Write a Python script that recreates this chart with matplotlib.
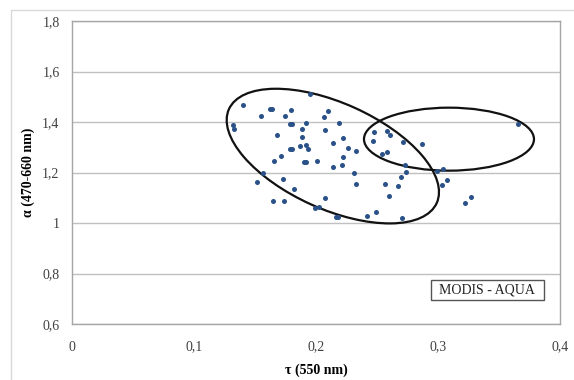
import matplotlib
matplotlib.use("Agg")
import matplotlib.pyplot as plt
from matplotlib.patches import Ellipse, Rectangle
from matplotlib.transforms import ScaledTranslation
from matplotlib.ticker import FuncFormatter

plt.rcParams['font.family'] = ['Liberation Serif', 'DejaVu Serif']

# tau (550 nm) values
tau = [0.1404, 0.1637, 0.1627, 0.1547, 0.1793, 0.1748, 0.1951, 0.2101, 0.2066, 0.2191,
       0.1317, 0.1330, 0.1801, 0.1789, 0.1918, 0.1883, 0.2074, 0.1683, 0.1883, 0.2219,
       0.2137, 0.1918, 0.1869, 0.1801, 0.1787, 0.1937, 0.2265, 0.2328, 0.1711, 0.1656,
       0.2219, 0.1902, 0.1922, 0.2011, 0.2137, 0.2211, 0.1563, 0.2311, 0.1519, 0.1727,
       0.2328, 0.1820, 0.2074, 0.1645, 0.1738, 0.1992, 0.2025, 0.2183, 0.2168, 0.2416,
       0.2475, 0.2584, 0.2607, 0.2465, 0.2711, 0.2865, 0.2580, 0.2539, 0.2730, 0.2738,
       0.2694, 0.2563, 0.2675, 0.2601, 0.2492, 0.2702, 0.3658, 0.3039, 0.2994, 0.3076,
       0.3030, 0.3273, 0.3221]
# alpha (470-660 nm) values
alpha = [1.469, 1.453, 1.453, 1.425, 1.449, 1.425, 1.512, 1.442, 1.418, 1.398,
         1.389, 1.373, 1.392, 1.392, 1.398, 1.372, 1.367, 1.349, 1.339, 1.335,
         1.317, 1.310, 1.303, 1.294, 1.294, 1.294, 1.298, 1.284, 1.267, 1.244,
         1.263, 1.240, 1.240, 1.247, 1.222, 1.228, 1.198, 1.200, 1.164, 1.174,
         1.156, 1.135, 1.099, 1.086, 1.086, 1.059, 1.062, 1.022, 1.022, 1.029,
         1.362, 1.366, 1.349, 1.325, 1.320, 1.314, 1.282, 1.273, 1.229, 1.202,
         1.181, 1.153, 1.145, 1.108, 1.042, 1.019, 1.393, 1.214, 1.204, 1.169,
         1.152, 1.103, 1.079]

x_ticks = [0, 0.1, 0.2, 0.3, 0.4]
y_ticks = [0.6, 0.8, 1.0, 1.2, 1.4, 1.6, 1.8]

fig = plt.figure(figsize=(5.74, 3.80), dpi=100)
ax = fig.add_axes([72/574, 1-324/380, 488/574, 303/380])

# light outer chart border (only top/left visible in the crop)
fig.patches.append(Rectangle((11/574, -0.1), 1.2, 1 - 10/380 + 0.1,
                             transform=fig.transFigure, fill=False,
                             edgecolor='#d9d9d9', lw=1))

ax.scatter(tau, alpha, s=13, color='#2a5288', zorder=3, linewidths=0)

ax.set_xlim(0, 0.4)
ax.set_ylim(0.6, 1.8)
ax.set_xticks(x_ticks)
ax.set_yticks(y_ticks)
fmt = FuncFormatter(lambda v, p: ('%g' % v).replace('.', ','))
ax.xaxis.set_major_formatter(fmt)
ax.yaxis.set_major_formatter(fmt)
ax.tick_params(axis='both', length=0, labelsize=10, colors='#404040')
ax.tick_params(axis='x', pad=12)
ax.tick_params(axis='y', pad=9)
ax.grid(axis='y', color='#c0c0c0', lw=1)
ax.set_axisbelow(True)
for s in ax.spines.values():
    s.set_color('#a6a6a6')
    s.set_linewidth(1)

ax.set_xlabel('τ (550 nm)', fontsize=10, fontweight='bold')
ax.set_ylabel('α (470-660 nm)', fontsize=10, fontweight='bold')
ax.xaxis.set_label_coords(0.5, -0.13)
ax.yaxis.set_label_coords(-0.076, 0.5)

# the two hand-drawn ellipses (sizes in inches at dpi 100)
e1 = Ellipse((0, 0), 2.28, 1.06, angle=-24.3, fill=False, edgecolor='#111111', lw=1.6,
             transform=fig.dpi_scale_trans + ScaledTranslation(0.2138, 1.265, ax.transData))
e2 = Ellipse((0, 0), 1.70, 0.63, angle=0, fill=False, edgecolor='#111111', lw=1.6,
             transform=fig.dpi_scale_trans + ScaledTranslation(0.3090, 1.332, ax.transData))
ax.add_patch(e1)
ax.add_patch(e2)

ax.add_patch(Rectangle((0.294, 0.696), 0.093, 0.079, fill=False,
                       edgecolor='#555555', lw=1, zorder=4))
ax.text(0.3405, 0.7355, 'MODIS - AQUA', ha='center', va='center', fontsize=10,
        color='#222222', zorder=5)

fig.savefig('out.png', dpi=100)
